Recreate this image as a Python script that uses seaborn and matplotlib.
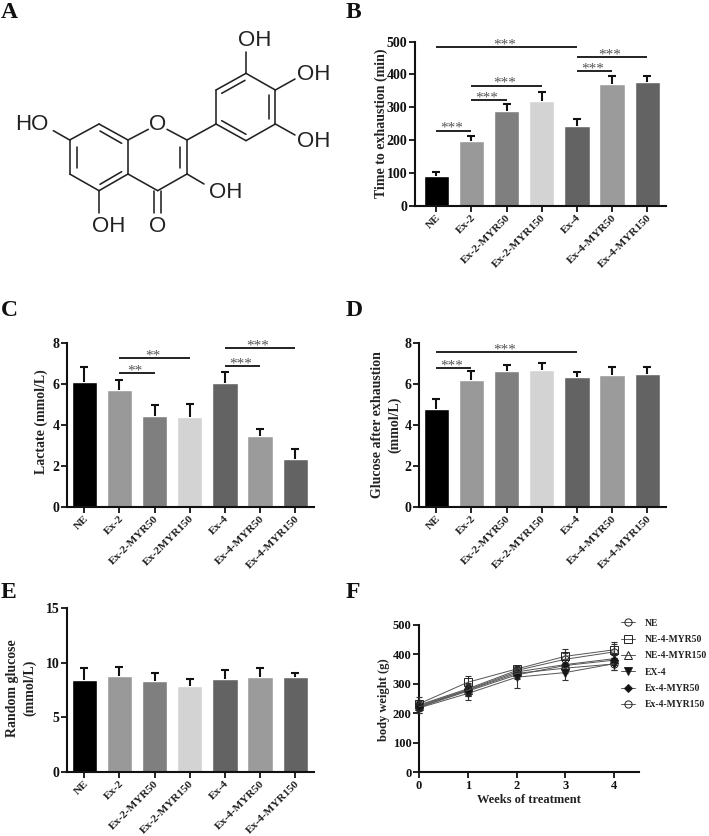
import numpy as np
import pandas as pd
import matplotlib
matplotlib.use("Agg")
import matplotlib.pyplot as plt
from matplotlib.transforms import ScaledTranslation
import seaborn as sns

W, H = 709, 836
SERIF = "Liberation Serif"

groups = ["NE", "Ex-2", "Ex-2-MYR50", "Ex-2-MYR150", "Ex-4", "Ex-4-MYR50", "Ex-4-MYR150"]
groups_c = ["NE", "Ex-2", "Ex-2-MYR50", "Ex-2MYR150", "Ex-4", "Ex-4-MYR50", "Ex-4-MYR150"]
bar_colors = ["#000000", "#999999", "#7f7f7f", "#d3d3d3", "#636363", "#9b9b9b", "#636363"]

time_vals = [90, 198, 288, 320, 242, 370, 377]
time_tops = [103, 213, 310, 347, 265, 395, 395]
lact_vals = [6.1, 5.72, 4.43, 4.37, 6.03, 3.45, 2.33]
lact_tops = [6.8, 6.2, 4.97, 5.03, 6.55, 3.82, 2.82]
gluc_vals = [4.78, 6.2, 6.63, 6.68, 6.33, 6.45, 6.47]
gluc_tops = [5.25, 6.6, 6.9, 7.02, 6.57, 6.82, 6.8]
rand_vals = [8.4, 8.75, 8.35, 7.9, 8.55, 8.65, 8.72]
rand_tops = [9.5, 9.6, 9.05, 8.55, 9.35, 9.55, 9.1]

# (first group, last group, height, stars)
time_sig = [(0, 4, 483, "***"), (4, 6, 454, "***"), (4, 5, 411, "***"),
            (1, 3, 366, "***"), (1, 2, 321, "***"), (0, 1, 229, "***")]
lact_sig = [(4, 6, 7.73, "***"), (4, 5, 6.87, "***"), (1, 3, 7.27, "**"), (1, 2, 6.51, "**")]
gluc_sig = [(0, 4, 7.55, "***"), (0, 1, 6.75, "***")]

weeks = [0, 1, 2, 3, 4]
weight_names = ["NE", "NE-4-MYR50", "NE-4-MYR150", "EX-4", "Ex-4-MYR50", "Ex-4-MYR150"]
weight_vals = [
    [228, 283, 345, 383, 408],
    [232, 305, 350, 393, 415],
    [225, 280, 340, 365, 385],
    [218, 267, 322, 338, 368],
    [220, 275, 330, 362, 380],
    [222, 278, 335, 353, 367],
]
weight_errs = [
    [18, 20, 12, 22, 25],
    [22, 20, 10, 23, 27],
    [15, 18, 12, 20, 20],
    [16, 22, 36, 26, 20],
    [18, 18, 15, 20, 18],
    [15, 18, 14, 18, 20],
]
weight_markers = ["o", "s", "^", "v", "D", "o"]
weight_filled = [False, False, False, True, True, False]

sns.set_theme(style="ticks")
plt.rcParams["font.family"] = [SERIF, "DejaVu Serif"]
plt.rcParams["font.weight"] = "bold"
plt.rcParams["axes.labelweight"] = "bold"

fig = plt.figure(figsize=(W / 100, H / 100), dpi=100, facecolor="white")


def make_axes(l, t, r, b):
    return fig.add_axes([l / W, 1 - b / H, (r - l) / W, (b - t) / H], facecolor="none")


def style_axes(ax, ytick_size=10):
    sns.despine(ax=ax)
    for s in ("left", "bottom"):
        ax.spines[s].set_linewidth(1.5)
        ax.spines[s].set_color("#111111")
    ax.tick_params(axis="both", length=4, width=1.3, color="#111111", pad=1.5)
    ax.tick_params(axis="y", labelsize=ytick_size, labelcolor="#111111")


def bar_panel(box, first_center, names, vals, tops, yticks, ylabel, label_x, label_y, sig=()):
    l, t, r, b = box
    ax = make_axes(l, t, r, b)
    df = pd.DataFrame({"group": names, "value": vals})
    sns.barplot(data=df, x="group", y="value", hue="group", palette=bar_colors,
                dodge=False, legend=False, width=0.72, saturation=1, ax=ax)
    up = np.array(tops) - np.array(vals)
    _, caps, _ = ax.errorbar(range(len(vals)), vals, yerr=[np.zeros(len(vals)), up], fmt="none",
                             ecolor="#111111", elinewidth=1.5, capsize=2.9, capthick=1.5, zorder=5)
    caps[0].set_visible(False)
    step = 35.15
    ax.set_xlim((l - first_center) / step, (r - first_center) / step)
    ax.set_ylim(yticks[0], yticks[-1])
    ax.set_yticks(yticks)
    ax.set_xlabel("")
    ax.set_ylabel(ylabel, fontsize=10, fontweight="bold", color="#222222", linespacing=1.35)
    ax.yaxis.set_label_coords((label_x - l) / (r - l), (b - label_y) / (b - t))
    ax.set_xticks(range(len(names)))
    ax.set_xticklabels(names, rotation=45, ha="right", va="center", rotation_mode="anchor",
                       fontsize=8.2, color="#222222")
    style_axes(ax)
    ax.tick_params(axis="x", pad=3.5)
    shift = ScaledTranslation(2.5 / 100, 0, fig.dpi_scale_trans)
    for lab in ax.get_xticklabels():
        lab.set_transform(lab.get_transform() + shift)
    for x0, x1, y, stars in sig:
        ax.plot([x0, x1], [y, y], color="#222222", lw=1.4, solid_capstyle="butt", clip_on=False)
        ax.annotate(stars, xy=((x0 + x1) / 2, y), xytext=(-1.5, -1.0), textcoords="offset points",
                    ha="center", va="baseline", fontsize=11, color="#555555",
                    fontweight="normal", annotation_clip=False)
    return ax


bar_panel((415, 41.7, 665.7, 205.7), 436.3, groups, time_vals, time_tops, [0, 100, 200, 300, 400, 500],
          "Time to exhaustion (min)", 388, 123, time_sig)
bar_panel((67, 342.7, 313.7, 507), 84.3, groups_c, lact_vals, lact_tops, [0, 2, 4, 6, 8],
          "Lactate (mmol/L)", 48.5, 421.7, lact_sig)
bar_panel((419, 342.7, 665.7, 507), 436.3, groups, gluc_vals, gluc_tops, [0, 2, 4, 6, 8],
          "Glucose after exhaustion\n(mmol/L)", 401, 425, gluc_sig)
bar_panel((67, 608, 313.7, 772), 84.3, groups, rand_vals, rand_tops, [0, 5, 10, 15],
          "Random glucose\n(mmol/L)", 36, 688)

# Panel F
axf = make_axes(419, 624.7, 638.7, 772.3)
for name, vals, errs, mk, filled in zip(weight_names, weight_vals, weight_errs, weight_markers, weight_filled):
    sns.lineplot(x=weeks, y=vals, ax=axf, color="#555555", lw=0.7, marker=mk,
                 markersize=3.6 if mk == "D" else 5.2,
                 markerfacecolor="#111111" if filled else "none",
                 markeredgecolor="#222222", markeredgewidth=0.7, label=name,
                 errorbar=None, clip_on=False, zorder=4)
    axf.errorbar(weeks, vals, yerr=errs, fmt="none", ecolor="#333333", elinewidth=0.8,
                 capsize=2.3, capthick=0.8, clip_on=False, zorder=3)
axf.set_xlim(0, 4.5)
axf.set_ylim(0, 500)
axf.set_xticks(weeks)
axf.set_yticks([0, 100, 200, 300, 400, 500])
axf.set_xlabel("Weeks of treatment", fontsize=9, fontweight="bold", color="#222222", labelpad=1.5)
axf.set_ylabel("body weight (g)", fontsize=9, fontweight="bold", color="#222222")
axf.yaxis.set_label_coords((390 - 419) / (638.7 - 419), 0.49)
style_axes(axf, ytick_size=9)
axf.tick_params(axis="x", labelsize=9, labelcolor="#111111")
axf.legend(loc="upper left", bbox_to_anchor=(620.7 / W, 1 - 618.5 / H), bbox_transform=fig.transFigure,
           frameon=False, fontsize=6.9, handlelength=1.5, handletextpad=1.05, labelspacing=0.77,
           borderpad=0, borderaxespad=0, labelcolor="#222222")

# Panel letters
for letter, x, y in [("A", 1, 18), ("B", 346, 18), ("C", 1, 316.5), ("D", 346, 316.5),
                     ("E", 1, 597.5), ("F", 346, 597.5)]:
    fig.text(x / W, 1 - y / H, letter, fontsize=17, fontweight="bold", color="#111111",
             ha="left", va="baseline")

# Panel A: molecule, in zoomed-crop units (3 per pixel)
bonds = [
    ((297, 372), (384, 420)), ((384, 420), (384, 522)), ((384, 522), (297, 572)),
    ((297, 572), (209, 522)), ((209, 522), (209, 420)), ((209, 420), (297, 372)),
    ((384, 420), (445, 388)), ((501, 388), (561, 420)), ((561, 420), (561, 522)),
    ((561, 522), (473, 572)), ((473, 572), (384, 522)),
    ((463, 572), (463, 640)), ((483, 572), (483, 640)),
    ((561, 522), (612, 552)), ((297, 572), (297, 640)), ((209, 420), (160, 392)),
    ((561, 420), (648, 372)),
    ((648, 372), (648, 270)), ((648, 270), (738, 220)), ((738, 220), (826, 270)),
    ((826, 270), (826, 372)), ((826, 372), (738, 422)), ((738, 422), (648, 372)),
    ((738, 220), (738, 155)), ((826, 270), (885, 237)), ((826, 372), (885, 405)),
    ((300, 393), (365, 430)), ((230, 440), (230, 505)), ((300, 553), (365, 515)),
    ((540, 440), (540, 505)), ((665, 280), (735, 241)), ((806, 285), (806, 358)),
    ((665, 362), (738, 403)),
]
atoms = [("O", 473, 373), ("O", 473, 680), ("OH", 677, 578), ("OH", 325, 680), ("HO", 95, 375),
         ("OH", 765, 120), ("OH", 940, 222), ("OH", 940, 425)]
axa = fig.add_axes([0, 0, 1, 1], facecolor="none")
axa.set_xlim(0, W)
axa.set_ylim(H, 0)
axa.axis("off")
for (x0, y0), (x1, y1) in bonds:
    axa.plot([x0 / 3, x1 / 3], [y0 / 3, y1 / 3], color="#222222", lw=1.15, solid_capstyle="round")
for s, x, y in atoms:
    axa.text(x / 3, y / 3, s, fontsize=16, family="Liberation Sans", fontweight="normal",
             color="#222222", ha="center", va="center")

fig.savefig("out.png", dpi=100, facecolor="white")
